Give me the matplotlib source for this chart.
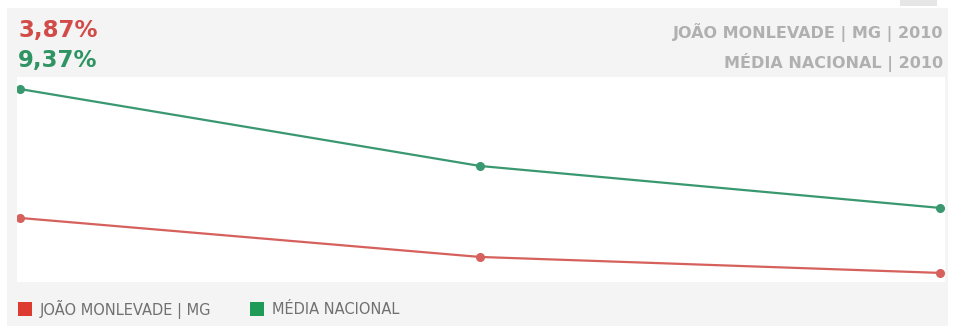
import matplotlib
matplotlib.use("Agg")
import matplotlib.pyplot as plt
from matplotlib.patches import Rectangle

# Data
years = ["1991", "2000", "2010"]
joao_monlevade = [8.52, 5.22, 3.87]
media_nacional = [19.43, 12.92, 9.37]
label_joao = "JOÃO MONLEVADE | MG"
label_media = "MÉDIA NACIONAL"
value_joao = "3,87%"
value_media = "9,37%"
header_joao = "JOÃO MONLEVADE | MG | 2010"
header_media = "MÉDIA NACIONAL | 2010"

red_line = "#d6605c"
green_line = "#3a9870"
red_text = "#d14b48"
green_text = "#2f9462"
red_sq = "#dd3a30"
green_sq = "#1f9a57"

W, H = 960, 326
fig = plt.figure(figsize=(W / 100, H / 100), dpi=100)
fig.patch.set_facecolor("white")

def px(x, y, w, h):
    return (x / W, 1 - (y + h) / H, w / W, h / H)

# gray panel
x0, y0, w0, h0 = px(7, 8, 941, 318)
fig.patches.append(Rectangle((x0, y0), w0, h0, transform=fig.transFigure,
                             facecolor="#f4f4f4", edgecolor="none", zorder=-2))
# small button at top right
bx, by, bw, bh = px(900, 0, 37, 6)
fig.patches.append(Rectangle((bx, by), bw, bh, transform=fig.transFigure,
                             facecolor="#e6e6e6", edgecolor="none", zorder=-2))

ax = fig.add_axes(px(17, 77, 928, 205))
ax.set_zorder(2)
ax.set_facecolor("white")
xs = list(range(len(years)))
ax.plot(xs, media_nacional, color=green_line, lw=1.6, marker="o", ms=5.5,
        markerfacecolor=green_line, markeredgecolor=green_line, zorder=3)
ax.plot(xs, joao_monlevade, color=red_line, lw=1.6, marker="o", ms=5.5,
        markerfacecolor=red_line, markeredgecolor=red_line, zorder=3)
ax.set_xlim(-3 / 460, 2 + 5 / 460)
ax.set_ylim(3.10, 20.45)
ax.set_xticks([])
ax.set_yticks([])
for s in ax.spines.values():
    s.set_visible(False)

# header values
fig.text(18 / W, 1 - 30 / H, value_joao, color=red_text, fontsize=16.5,
         fontweight="bold", va="center", ha="left", family="DejaVu Sans")
fig.text(18 / W, 1 - 60 / H, value_media, color=green_text, fontsize=16.5,
         fontweight="bold", va="center", ha="left", family="DejaVu Sans")
fig.text(943 / W, 1 - 32 / H, header_joao, color="#b0b0b0", fontsize=11.5,
         fontweight="bold", va="center", ha="right", family="DejaVu Sans")
fig.text(943 / W, 1 - 62 / H, header_media, color="#b0b0b0", fontsize=11.5,
         fontweight="bold", va="center", ha="right", family="DejaVu Sans")

# legend
for sx, col, lab in [(18, red_sq, label_joao), (250, green_sq, label_media)]:
    rx, ry, rw, rh = px(sx, 302, 14, 14)
    fig.patches.append(Rectangle((rx, ry), rw, rh, transform=fig.transFigure,
                                 facecolor=col, edgecolor="none", zorder=1))
    fig.text((sx + 22) / W, 1 - 309 / H, lab, color="#707070", fontsize=10.5,
             va="center", ha="left", family="DejaVu Sans")

fig.savefig("out.png", dpi=100, facecolor=fig.get_facecolor())
